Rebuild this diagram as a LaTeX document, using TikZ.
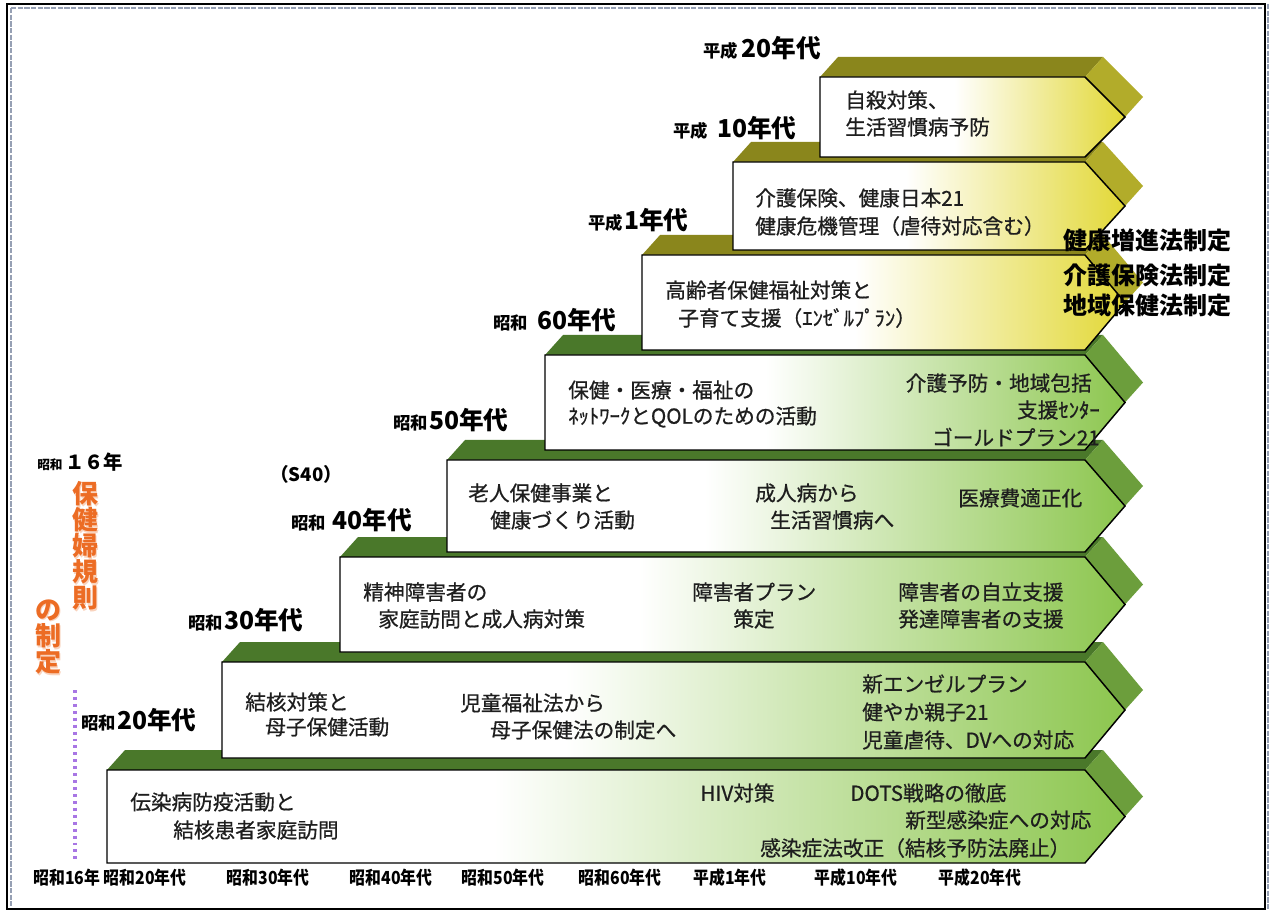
\documentclass[tikz,border=0pt]{standalone}
\usepackage{fontspec}
\newfontfamily\jp{Noto Sans CJK JP}
\newfontfamily\jpm{Noto Sans CJK JP}[FakeBold=0.7]
\usetikzlibrary{calc}
\definecolor{gtop}{RGB}{74,120,42}
\definecolor{gside}{RGB}{108,158,60}
\definecolor{gfront}{RGB}{140,198,78}
\definecolor{ytop}{RGB}{138,134,28}
\definecolor{yside}{RGB}{178,172,42}
\definecolor{yfront}{RGB}{226,216,54}
\definecolor{txt}{RGB}{30,30,30}
\definecolor{orng}{RGB}{236,108,36}
\definecolor{purp}{RGB}{168,118,228}
\definecolor{framegray}{RGB}{150,160,180}
\pgfdeclarehorizontalshading{gshade}{100bp}{color(0bp)=(white); color(25bp)=(white); color(44bp)=(white); color(75bp)=(gfront); color(100bp)=(gfront)}
\pgfdeclarehorizontalshading{yshade}{100bp}{color(0bp)=(white); color(25bp)=(white); color(47bp)=(white); color(75bp)=(yfront); color(100bp)=(yfront)}
\newcommand\mkband[6]{%
  \pgfmathsetmacro\bM{(#2+#3)/2}%
  \fill[#4] (#1,#2) -- (#1+18,#2-20) -- (1103,#2-20) -- (1085,#2) -- cycle;
  \fill[#5] (1085,#2) -- (1103,#2-20) -- (1143,\bM-20) -- (1125,\bM) -- cycle;
  \path[shade, shading=#6, draw=black, line width=1.1pt, line join=miter] (#1,#2) -- (1085,#2) -- (1125,\bM) -- (1085,#3) -- (#1,#3) -- cycle;
}
\newcommand\erasm{\fontsize{13}{15}\selectfont}
\newcommand\eralg{\fontsize{18.5}{22}\selectfont}
\newcommand\era[6]{\node[era] (#1) at (#2,#3) {{\erasm #4}\hspace{#5pt}{\eralg #6}};}
\tikzset{
  bt/.style={anchor=west, inner sep=0pt, text=txt, font=\jpm\fontsize{15.5}{18}\selectfont},
  bte/.style={bt, anchor=east},
  era/.style={anchor=west, inner sep=0pt, text=black, font=\jp\bfseries},
  axl/.style={inner sep=0pt, text=black, font=\jp\bfseries\fontsize{13.5}{15}\selectfont},
  orn/.style={inner sep=0pt, text=orng, font=\jp\bfseries\fontsize{19.5}{20}\selectfont},
  ornsh/.style={orn, text=orng!30},
  law/.style={anchor=west, inner sep=0pt, text=black, font=\jp\bfseries\fontsize{18}{20}\selectfont}
}
\begin{document}
\begin{tikzpicture}[x=0.75pt,y=-0.75pt]
\useasboundingbox (0,0) rectangle (1270,912);
\fill[white] (0,0) rectangle (1270,912);
% frame
\draw[framegray, line width=2.2pt, dash pattern=on 4pt off 1pt] (11,8) -- (1262,8);
\draw[framegray, line width=2.2pt, dash pattern=on 4pt off 1pt] (11,8) -- (11,906);
\draw[framegray, line width=2.2pt, dash pattern=on 4pt off 1pt] (1268,4) -- (1268,909);
\draw[black, line width=1.6pt] (7,4) rectangle (1265,909);

% bands
\mkband{107}{770}{863}{gtop}{gside}{gshade}
\mkband{222}{662}{758}{gtop}{gside}{gshade}
\mkband{340}{557}{652}{gtop}{gside}{gshade}
\mkband{447}{460}{552}{gtop}{gside}{gshade}
\mkband{545}{355}{450}{gtop}{gside}{gshade}
\mkband{642}{255}{350}{ytop}{yside}{yshade}
\mkband{733}{162}{250}{ytop}{yside}{yshade}
\mkband{820}{77}{157}{ytop}{yside}{yshade}

% band 0
\node[bt] (b0a) at (130,802) {伝染病防疫活動と};
\node[bt] (b0b) at (173,830) {結核患者家庭訪問};
\node[bt] (b0c) at (700,793) {HIV対策};
\node[bt] (b0d) at (850,793) {DOTS戦略の徹底};
\node[bt] (b0e) at (905,820) {新型感染症への対応};
\node[bt] (b0f) at (760,848) {感染症法改正（結核予防法廃止）};
% band 1
\node[bt] (b1a) at (245,702) {結核対策と};
\node[bt] (b1b) at (265,727) {母子保健活動};
\node[bt] (b1c) at (460,703) {児童福祉法から};
\node[bt] (b1d) at (490,730) {母子保健法の制定へ};
\node[bt] (b1e) at (862,684) {新エンゼルプラン};
\node[bt] (b1f) at (862,712) {健やか親子21};
\node[bt] (b1g) at (862,740) {児童虐待、DVへの対応};
% band 2
\node[bt] (b2a) at (363,592) {精神障害者の};
\node[bt] (b2b) at (378,619) {家庭訪問と成人病対策};
\node[bt] (b2c) at (692,592) {障害者プラン};
\node[bt] (b2d) at (733,619) {策定};
\node[bt] (b2e) at (898,592) {障害者の自立支援};
\node[bt] (b2f) at (898,619) {発達障害者の支援};
% band 3
\node[bt] (b3a) at (468,493) {老人保健事業と};
\node[bt] (b3b) at (490,520) {健康づくり活動};
\node[bt] (b3c) at (755,493) {成人病から};
\node[bt] (b3d) at (770,520) {生活習慣病へ};
\node[bt] (b3e) at (958,498) {医療費適正化};
% band 4
\node[bt] (b4a) at (568,390) {保健・医療・福祉の};
\node[bt] (b4b) at (568,417) {ﾈｯﾄﾜｰｸとQOLのための活動};
\node[bte] (b4c) at (1092,383) {介護予防・地域包括};
\node[bte] (b4d) at (1100,410) {支援ｾﾝﾀｰ};
\node[bte] (b4e) at (1100,437) {ゴールドプラン21};
% band 5
\node[bt] (b5a) at (665,290) {高齢者保健福祉対策と};
\node[bt] (b5b) at (678,318) {子育て支援（ｴﾝｾﾞﾙﾌﾟﾗﾝ）};
% band 6
\node[bt] (b6a) at (755,198) {介護保険、健康日本21};
\node[bt] (b6b) at (755,226) {健康危機管理（虐待対応含む）};
% band 7
\node[bt] (b7a) at (845,100) {自殺対策、};
\node[bt] (b7b) at (845,127) {生活習慣病予防};

% era labels
\era{e20h}{703}{48}{平成}{3}{20年代}
\era{e10h}{673}{128}{平成}{7}{10年代}
\era{e1h}{588}{220}{平成}{1}{1年代}
\era{e60}{493}{320}{昭和}{7}{60年代}
\era{e50}{393}{420}{昭和}{1}{50年代}
\era{e40}{291}{520}{昭和}{5}{40年代}
\era{e30}{188}{620}{昭和}{1}{30年代}
\era{e20}{81}{720}{昭和}{1}{20年代}
\node[era, font=\jp\bfseries\fontsize{14}{16}\selectfont] (s40) at (270,474) {（S40）};

% left: 昭和16年 保健婦規則の制定
\node[era] (s16) at (37,462) {{\fontsize{9.5}{11}\selectfont 昭和}\hspace{2pt}{\fontsize{14.5}{16}\selectfont １６年}};
\foreach \c/\yy [count=\i] in {保/494,健/520,婦/546,規/572,則/598}{
  \node[ornsh] (osh\i) at (86.5,\yy+1.5) {\c};
  \node[orn] (o\i) at (85,\yy) {\c};
}
\foreach \c/\yy [count=\i] in {の/610,制/636,定/662}{
  \node[ornsh] (psh\i) at (49.5,\yy+1.5) {\c};
  \node[orn] (p\i) at (48,\yy) {\c};
}
\coordinate (dtop) at (75,690);
\coordinate (dbot) at (75,862);
\draw[purp, line width=2.6pt, dash pattern=on 2.2pt off 3pt] (dtop) -- (dbot);

% laws
\node[law] (l1) at (1063,240) {健康増進法制定};
\node[law] (l2) at (1063,275) {介護保険法制定};
\node[law] (l3) at (1063,305) {地域保健法制定};

% axis labels
\foreach \t/\xx [count=\i] in {昭和16年/67,昭和20年代/145,昭和30年代/268,昭和40年代/391,昭和50年代/503,昭和60年代/620,平成1年代/730,平成10年代/856,平成20年代/980}{
  \node[axl] (ax\i) at (\xx,878) {\scalebox{0.88}[1]{\t}};
}
\end{tikzpicture}
\end{document}
